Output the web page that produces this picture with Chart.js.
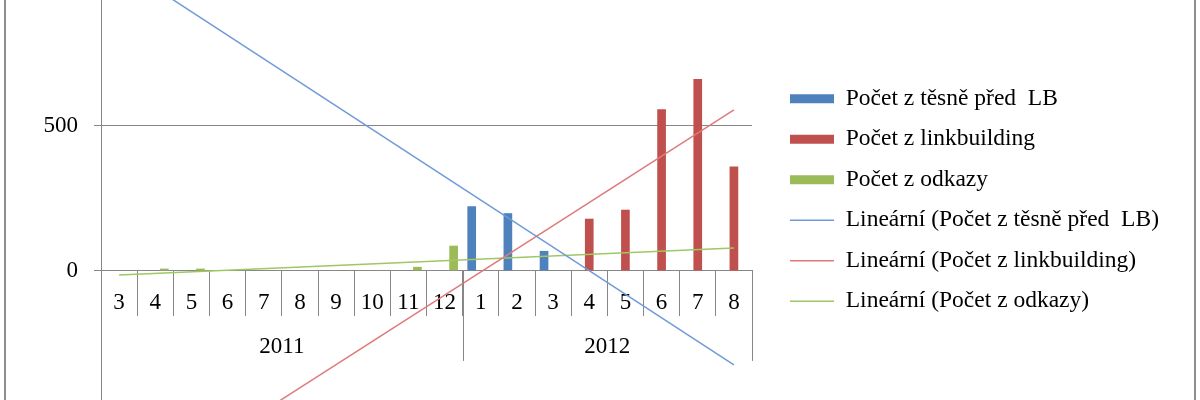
<!DOCTYPE html>
<html>
<head>
<meta charset="utf-8">
<script src="https://cdn.jsdelivr.net/npm/chart.js@4"></script>
<style>
  html, body { margin: 0; padding: 0; background: #fff; }
  #wrap { width: 1200px; height: 400px; }
</style>
</head>
<body>
<div id="wrap"><canvas id="chart" width="1200" height="400"></canvas></div>
<script>
// ===========================
// DATA
// ===========================
const months = ['3', '4', '5', '6', '7', '8', '9', '10', '11', '12', '1', '2', '3', '4', '5', '6', '7', '8'];
const yearOfMonth = ['2011', '2011', '2011', '2011', '2011', '2011', '2011', '2011', '2011', '2011',
    '2012', '2012', '2012', '2012', '2012', '2012', '2012', '2012'];

const seriesNames = ['Počet z těsně před  LB', 'Počet z linkbuilding', 'Počet z odkazy'];
const predLB = [null, null, null, null, null, null, null, null, null, null, 223, 199, 69, null, null, null, null, null];
const linkbuilding = [null, null, null, null, null, null, null, null, null, null, null, null, null, 180, 211, 557, 662, 360];
const odkazy = [null, 8, 8, null, null, null, null, null, 14, 87, null, null, null, null, null, null, null, null];

// linear trendlines, value at first and last month
const trendPredLB = [1056, -324];
const trendLinkbuilding = [-802, 555];
const trendOdkazy = [-14, 79];

const yTicks = [0, 500];

// ===========================
// HELPERS
// ===========================
const FONT = 'Liberation Serif';
const AXIS_GRAY = '#878787';

// only the two ends of a trendline carry a value, the line spans the gap
function trendData(ends) {
    return months.map((m, i) => i === 0 ? ends[0] : (i === months.length - 1 ? ends[1] : null));
}

// frame of the chart area (left and right edge only, the picture is cropped)
const framePlugin = {
    id: 'frame',
    beforeDraw(chart) {
        const ctx = chart.ctx;
        ctx.save();
        ctx.fillStyle = '#fff';
        ctx.fillRect(0, 0, chart.width, chart.height);
        ctx.strokeStyle = '#8f8f8f';
        ctx.lineWidth = 2;
        ctx.beginPath();
        ctx.moveTo(5, 0);
        ctx.lineTo(5, chart.height);
        ctx.moveTo(chart.width - 5, 0);
        ctx.lineTo(chart.width - 5, chart.height);
        ctx.stroke();
        ctx.restore();
    }
};

// second level of the category axis: years
const yearPlugin = {
    id: 'years',
    afterDraw(chart) {
        const x = chart.scales.x;
        const zero = chart.scales.y.getPixelForValue(0);
        const ctx = chart.ctx;
        const groups = [];
        yearOfMonth.forEach((y, i) => {
            const last = groups[groups.length - 1];
            if (last && last.year === y) last.end = i;
            else groups.push({ year: y, start: i, end: i });
        });
        ctx.save();
        ctx.font = '23px "' + FONT + '"';
        ctx.fillStyle = '#000';
        ctx.textAlign = 'center';
        ctx.textBaseline = 'middle';
        ctx.strokeStyle = AXIS_GRAY;
        ctx.lineWidth = 1;
        groups.forEach(g => {
            const left = x.getPixelForValue(g.start - 0.5);
            const right = x.getPixelForValue(g.end + 0.5);
            ctx.fillText(g.year, (left + right) / 2, zero + 76);
            const bx = Math.round(right) + 0.5;
            ctx.beginPath();
            ctx.moveTo(bx, zero);
            ctx.lineTo(bx, zero + 90);
            ctx.stroke();
        });
        ctx.restore();
    }
};

// fixed legend width so the plot ends where it does in the picture
const legendWidthPlugin = {
    id: 'legendWidth',
    beforeInit(chart) {
        const fit = chart.legend.fit;
        chart.legend.fit = function () {
            fit.bind(chart.legend)();
            this.width = 427;
        };
    }
};

// ===========================
// CHART
// ===========================
const ctx = document.getElementById('chart');

new Chart(ctx, {
    type: 'bar',
    data: {
        labels: months,
        datasets: [{
            label: seriesNames[0],
            data: predLB,
            backgroundColor: '#4F81BD',
            categoryPercentage: 0.75,
            barPercentage: 0.96
        }, {
            label: seriesNames[1],
            data: linkbuilding,
            backgroundColor: '#C0504D',
            categoryPercentage: 0.75,
            barPercentage: 0.96
        }, {
            label: seriesNames[2],
            data: odkazy,
            backgroundColor: '#9BBB59',
            categoryPercentage: 0.75,
            barPercentage: 0.96
        }, {
            type: 'line',
            label: 'Lineární (' + seriesNames[0] + ')',
            data: trendData(trendPredLB),
            borderColor: '#6f9bd8',
            backgroundColor: '#6f9bd8',
            borderWidth: 1.5,
            pointRadius: 0,
            spanGaps: true,
            order: -1
        }, {
            type: 'line',
            label: 'Lineární (' + seriesNames[1] + ')',
            data: trendData(trendLinkbuilding),
            borderColor: '#e07a7a',
            backgroundColor: '#e07a7a',
            borderWidth: 1.5,
            pointRadius: 0,
            spanGaps: true,
            order: -1
        }, {
            type: 'line',
            label: 'Lineární (' + seriesNames[2] + ')',
            data: trendData(trendOdkazy),
            borderColor: '#9fc765',
            backgroundColor: '#9fc765',
            borderWidth: 1.5,
            pointRadius: 0,
            spanGaps: true,
            order: -1
        }]
    },
    options: {
        responsive: false,
        devicePixelRatio: 1,
        animation: false,
        layout: { padding: 0 },
        plugins: {
            legend: {
                position: 'right',
                align: 'center',
                labels: {
                    font: { family: FONT, size: 23.5 },
                    color: '#000',
                    padding: 17,
                    usePointStyle: true,
                    pointStyleWidth: 44,
                    boxHeight: 9,
                    sort: (a, b) => a.datasetIndex - b.datasetIndex,
                    generateLabels: function (chart) {
                        const items = Chart.defaults.plugins.legend.labels.generateLabels(chart);
                        items.forEach(item => {
                            const ds = chart.data.datasets[item.datasetIndex];
                            if (ds.type === 'line') {
                                item.pointStyle = 'line';
                                item.strokeStyle = ds.borderColor;
                                item.lineWidth = 1.5;
                            } else {
                                item.pointStyle = 'rect';
                                item.fillStyle = ds.backgroundColor;
                                item.lineWidth = 0;
                            }
                        });
                        return items;
                    }
                }
            },
            tooltip: { enabled: false }
        },
        scales: {
            x: {
                position: { y: 0 },
                offset: true,
                grid: {
                    offset: true,
                    drawOnChartArea: false,
                    drawTicks: true,
                    tickLength: 45,
                    color: AXIS_GRAY
                },
                border: { display: true, color: AXIS_GRAY },
                ticks: {
                    autoSkip: false,
                    maxRotation: 0,
                    minRotation: 0,
                    padding: -27,
                    font: { family: FONT, size: 23 },
                    color: '#000'
                },
                afterFit: scale => {
                    scale.height = 0;
                    scale.paddingLeft = 0;
                    scale.paddingRight = 0;
                }
            },
            y: {
                position: 'left',
                min: -445,
                max: 934,
                afterBuildTicks: scale => {
                    scale.ticks = yTicks.map(v => ({ value: v }));
                },
                grid: {
                    color: AXIS_GRAY,
                    drawTicks: true,
                    tickLength: 7
                },
                border: { display: true, color: AXIS_GRAY },
                ticks: {
                    padding: 16,
                    font: { family: FONT, size: 23 },
                    color: '#000'
                },
                afterFit: scale => {
                    scale.width = 101;
                    scale.paddingTop = 0;
                    scale.paddingBottom = 0;
                }
            },
            pad: {
                type: 'linear',
                position: 'right',
                grid: { display: false },
                border: { display: false },
                ticks: { display: false },
                afterFit: scale => {
                    scale.width = 21;
                    scale.paddingTop = 0;
                    scale.paddingBottom = 0;
                }
            }
        }
    },
    plugins: [framePlugin, yearPlugin, legendWidthPlugin]
});
</script>
</body>
</html>
